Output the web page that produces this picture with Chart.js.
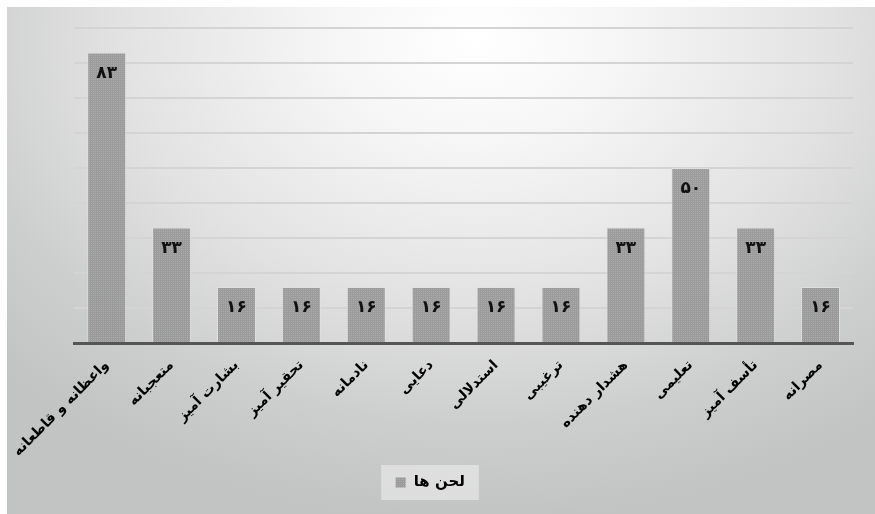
<!DOCTYPE html>
<html>
<head>
<meta charset="utf-8">
<script src="https://cdn.jsdelivr.net/npm/chart.js@4.4.0/dist/chart.umd.min.js"></script>
<style>
  html, body { margin: 0; padding: 0; background: #fff; }
  #wrap {
    position: absolute; left: 7px; top: 7px; width: 868px; height: 507px;
    background: radial-gradient(ellipse 75% 95% at 54% 6%, #ffffff 0%, #f6f6f6 22%, #e2e2e2 55%, #cdcece 80%, #c2c3c3 100%);
  }
</style>
</head>
<body>
<div id="wrap"><canvas id="chart" width="868" height="507"></canvas></div>
<script>
const categories = ['واعظانه و قاطعانه', 'متعجبانه', 'بشارت آمیز', 'تحقیر آمیز', 'نادمانه', 'دعایی',
                    'استدلالی', 'ترغیبی', 'هشدار دهنده', 'تعلیمی', 'تأسف آمیز', 'مصرانه'];
const values = [83, 33, 16, 16, 16, 16, 16, 16, 33, 50, 33, 16];
const seriesLabel = 'لحن ها';
const yMax = 90;
const yStep = 10;

// Persian digits for the value labels
const toFa = n => String(n).replace(/\d/g, d => '۰۱۲۳۴۵۶۷۸۹'[d]);

// small dotted fill like the original
const pc = document.createElement('canvas');
pc.width = 4; pc.height = 4;
const px = pc.getContext('2d');
px.fillStyle = 'rgba(150,150,150,0.92)';
px.fillRect(0, 0, 4, 4);
px.fillStyle = 'rgba(172,172,172,0.92)';
px.fillRect(0, 0, 1, 1); px.fillRect(2, 2, 1, 1);
px.fillRect(2, 0, 1, 1); px.fillRect(0, 2, 1, 1);
const ctx = document.getElementById('chart').getContext('2d');
const barFill = ctx.createPattern(pc, 'repeat');

const valueLabels = {
    id: 'valueLabels',
    afterDatasetsDraw(chart) {
        const c = chart.ctx;
        const meta = chart.getDatasetMeta(0);
        c.save();
        c.fillStyle = '#111';
        c.font = 'bold 17px "DejaVu Sans"';
        c.textAlign = 'center';
        c.textBaseline = 'middle';
        meta.data.forEach((bar, i) => {
            c.fillText(toFa(values[i]), bar.x, bar.y + 21);
        });
        c.restore();
    }
};

const legendBox = {
    id: 'legendBox',
    beforeDraw(chart) {
        const lg = chart.legend;
        if (!lg || !lg.legendHitBoxes.length) return;
        const hb = lg.legendHitBoxes[0];
        const c = chart.ctx;
        c.save();
        c.fillStyle = 'rgba(240,240,240,0.55)';
        c.fillRect(hb.left - 14, hb.top - 10, hb.width + 28, hb.height + 20);
        c.restore();
    }
};

new Chart(ctx, {
    type: 'bar',
    data: {
        labels: categories,
        datasets: [{
            label: seriesLabel,
            data: values,
            backgroundColor: barFill,
            borderColor: 'rgba(225,225,225,0.8)',
            borderWidth: 1,
            categoryPercentage: 0.6,
            barPercentage: 1
        }]
    },
    options: {
        responsive: false,
        animation: false,
        layout: { padding: { left: 0, right: 22, top: 21, bottom: 14 } },
        scales: {
            x: {
                grid: { display: false },
                border: { display: true, color: '#555', width: 3 },
                ticks: {
                    minRotation: 45,
                    maxRotation: 45,
                    color: '#000',
                    padding: 6,
                    font: { family: 'DejaVu Sans', size: 14, weight: 'bold' }
                },
                afterFit: s => { s.height = 122; }
            },
            y: {
                min: 0,
                max: yMax,
                ticks: { display: false, stepSize: yStep },
                grid: { color: '#d4d4d4', lineWidth: 2, drawTicks: false },
                border: { display: false },
                afterFit: s => { s.width = 65; }
            }
        },
        plugins: {
            legend: {
                position: 'bottom',
                labels: {
                    color: '#000',
                    boxWidth: 11,
                    boxHeight: 11,
                    padding: 10,
                    font: { family: 'DejaVu Sans', size: 15, weight: 'bold' }
                }
            },
            tooltip: { enabled: false }
        }
    },
    plugins: [valueLabels, legendBox]
});
</script>
</body>
</html>
